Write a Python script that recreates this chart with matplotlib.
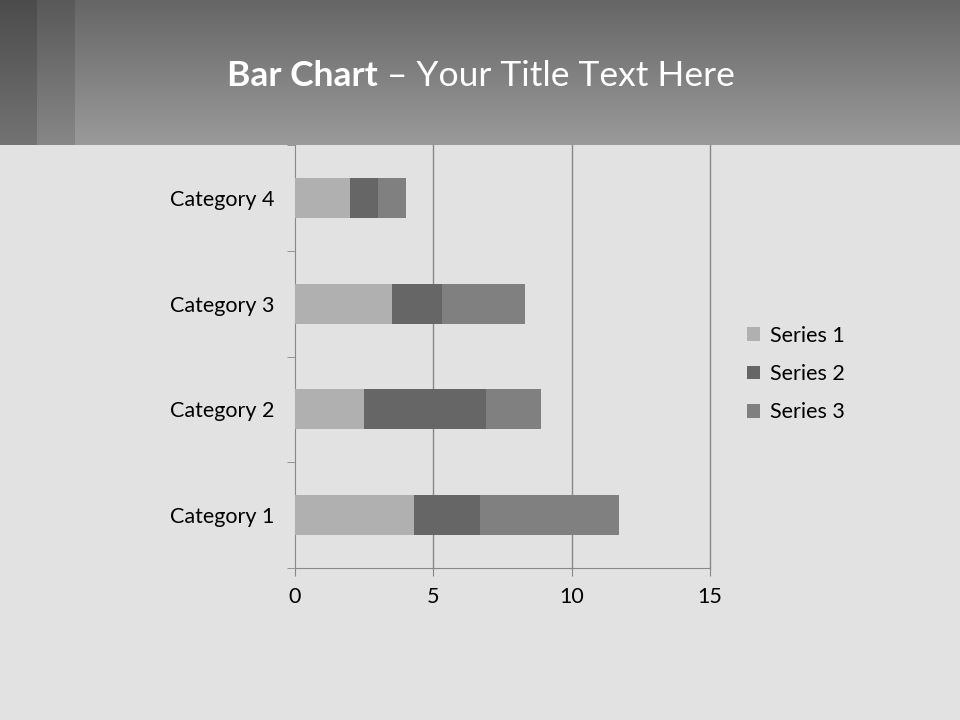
import numpy as np
import matplotlib.pyplot as plt
from matplotlib.patches import Rectangle

plt.rcParams['font.family'] = ['Lato', 'DejaVu Sans']

categories = ['Category 1', 'Category 2', 'Category 3', 'Category 4']
series_names = ['Series 1', 'Series 2', 'Series 3']
series_1 = [4.3, 2.5, 3.5, 2.0]
series_2 = [2.4, 4.4, 1.8, 1.0]
series_3 = [5.0, 2.0, 3.0, 1.0]
colors = ['#b0b0b0', '#666666', '#808080']
x_ticks = [0, 5, 10, 15]

fig = plt.figure(figsize=(9.6, 7.2), dpi=100)

# slide background: light stone body, grey gradient header, two dark strips
bg = fig.add_axes([0, 0, 1, 1], zorder=0)
bg.axis('off')
shade = np.linspace(0x66, 0x9a, 145) / 255.0
img = np.repeat(shade[:, None], 960, axis=1)
img = np.dstack([img, img, img])
bg.imshow(img, extent=(0, 960, 145, 0), origin='upper', aspect='auto')
bg.add_patch(Rectangle((0, 145), 960, 575, color='#e2e2e2', lw=0))
bg.add_patch(Rectangle((0, 0), 37, 145, facecolor='black', alpha=0.25, lw=0))
bg.add_patch(Rectangle((37, 0), 38, 145, facecolor='black', alpha=0.12, lw=0))
bg.set_xlim(0, 960)
bg.set_ylim(720, 0)

# title in two weights
t1 = fig.text(0, 1 - 76 / 720, 'Bar Chart', fontsize=25.5, fontweight='bold',
              color='white', va='center', ha='left')
t2 = fig.text(0, 1 - 76 / 720, ' \u2013 Your Title Text Here', fontsize=25.5,
              color='white', va='center', ha='left')
fig.canvas.draw()
r = fig.canvas.get_renderer()
w1 = t1.get_window_extent(r).width / 960
w2 = t2.get_window_extent(r).width / 960
x0 = 481 / 960 - (w1 + w2) / 2
t1.set_x(x0)
t2.set_x(x0 + w1)

ax = fig.add_axes([295 / 960, 1 - 568 / 720, 415 / 960, 423 / 720], zorder=2)
ax.patch.set_visible(False)
y = np.arange(len(categories))
left = np.zeros(len(categories))
for name, vals, c in zip(series_names, [series_1, series_2, series_3], colors):
    ax.barh(y, vals, left=left, height=0.38, color=c, label=name, zorder=3)
    left += np.array(vals)

ax.set_xlim(0, 15)
ax.set_ylim(-0.5, 3.5)
ax.set_xticks(x_ticks)
ax.set_yticks(y)
ax.set_yticklabels(categories)
ax.set_yticks(np.arange(-0.5, 4, 1), minor=True)
ax.tick_params(axis='y', which='major', length=0, pad=14.5, labelsize=15.5)
ax.tick_params(axis='y', which='minor', length=6, color='#888888', direction='out')
ax.tick_params(axis='x', length=6, color='#888888', labelsize=15.5, pad=8)
for v in x_ticks[1:]:
    ax.axvline(v, color='#888888', lw=1, zorder=1, clip_on=False)
for s in ['top', 'right']:
    ax.spines[s].set_visible(False)
for s in ['left', 'bottom']:
    ax.spines[s].set_color('#888888')

fig.legend(loc='center left', bbox_to_anchor=(728 / 960, 1 - 374 / 720),
           frameon=False, fontsize=15.5, handlelength=0.6, handleheight=0.6,
           handletextpad=0.45, labelspacing=0.85)

fig.savefig('out.png', dpi=100)
